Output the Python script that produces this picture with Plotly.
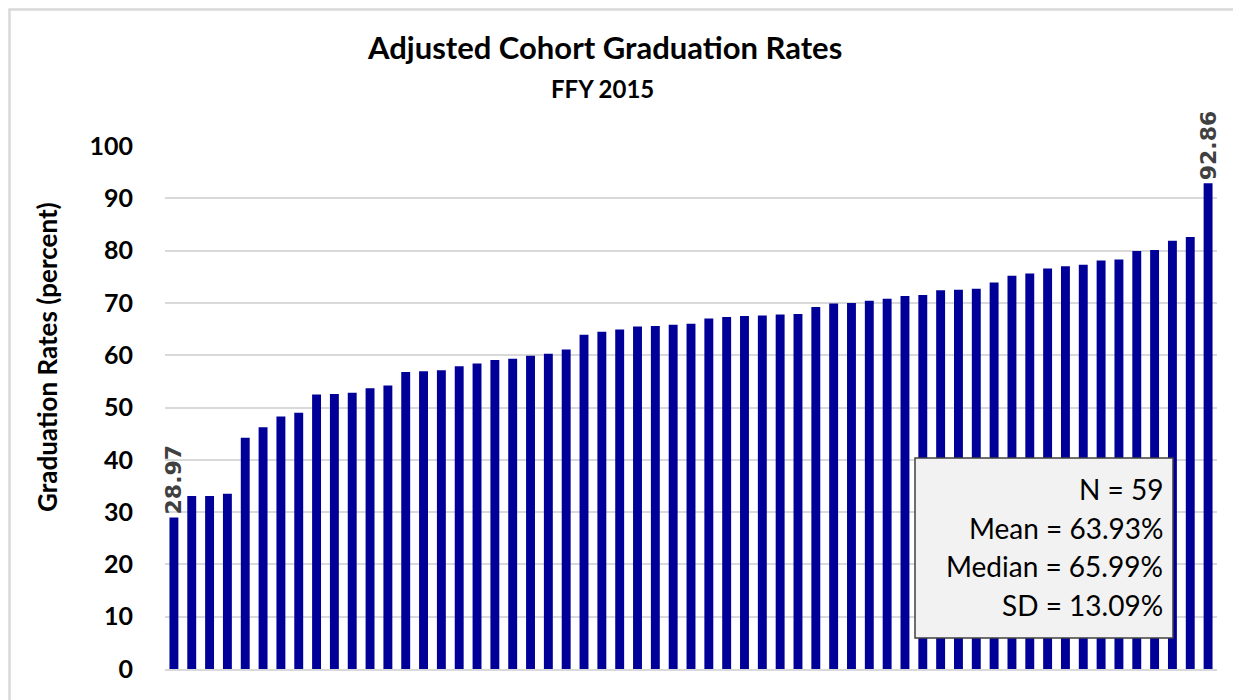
import plotly.graph_objects as go

# ---- data ----
rates = [28.97, 33.1, 33.1, 33.5, 44.2, 46.2, 48.3, 49.0, 52.5, 52.6,
         52.8, 53.7, 54.2, 56.8, 56.95, 57.1, 57.9, 58.4, 59.1, 59.3,
         59.9, 60.3, 61.1, 63.9, 64.5, 64.9, 65.5, 65.6, 65.8, 65.99,
         67.0, 67.3, 67.5, 67.6, 67.8, 67.9, 69.2, 69.9, 70.0, 70.4,
         70.8, 71.3, 71.5, 72.4, 72.5, 72.7, 73.9, 75.2, 75.6, 76.6,
         77.0, 77.3, 78.1, 78.3, 79.9, 80.1, 81.9, 82.6, 92.86]
units = list(range(1, len(rates) + 1))
labeled_units = [1, 59]
y_ticks = [0, 10, 20, 30, 40, 50, 60, 70, 80, 90, 100]
stats_lines = ["N = 59", "Mean = 63.93%", "Median = 65.99%", "SD = 13.09%"]
title_text = "Adjusted Cohort Graduation Rates"
subtitle_text = "FFY 2015"
y_title = "Graduation Rates (percent)"

# ---- layout geometry (pixels, in reference-screen coordinates) ----
OFF = 8                      # page body margin offset
W, H = 1241, 700
SL, SR, ST, SB = 165, 1217, 146, 669   # plot area edges on screen
L, T = SL - OFF, ST - OFF
R, B = W - (SR - OFF), H - (SB - OFF)
PW, PH = SR - SL, SB - ST


def px(x):
    return (x - SL) / PW


def py(y):
    return (SB - y) / PH


bar_text = [f"{v:.2f}" if u in labeled_units else "" for u, v in zip(units, rates)]

fig = go.Figure()
fig.add_trace(go.Bar(
    x=units, y=rates,
    marker=dict(color="#000099", line=dict(width=0)),
    text=bar_text, textposition="outside", textangle=-90,
    textfont=dict(family="DejaVu Sans", size=22, color="#404040", weight="bold"),
    constraintext="none", cliponaxis=False,
    hoverinfo="x+y",
))

fig.update_layout(
    width=W, height=H,
    margin=dict(l=L, r=R, t=T, b=B),
    paper_bgcolor="white", plot_bgcolor="white",
    bargap=0.5, showlegend=False,
    xaxis=dict(showticklabels=False, showgrid=False, zeroline=False,
               showline=True, linecolor="#d9d9d9", linewidth=2,
               range=[0.5, len(rates) + 0.5], ticks=""),
    yaxis=dict(range=[0, 100], tickvals=y_ticks, showgrid=True,
               gridcolor="#d9d9d9", gridwidth=2, zeroline=False,
               showline=False, ticks="outside", ticklen=26,
               tickcolor="rgba(0,0,0,0)",
               tickfont=dict(family="Lato", size=25, color="black", weight="bold")),
    font=dict(family="Lato"),
)

# outer chart border
fig.add_shape(type="rect", xref="paper", yref="paper",
              x0=px(9.5), x1=px(1300), y0=py(9.5), y1=py(760),
              line=dict(color="#d9d9d9", width=2.5), fillcolor="rgba(0,0,0,0)", layer="below")

# title & subtitle
fig.add_annotation(text=f"<b>{title_text}</b>", xref="paper", yref="paper",
                   x=px(604), y=py(47), showarrow=False, xanchor="center", yanchor="middle",
                   font=dict(family="Lato", size=31, color="black"))
fig.add_annotation(text=f"<b>{subtitle_text}</b>", xref="paper", yref="paper",
                   x=px(602), y=py(88), showarrow=False, xanchor="center", yanchor="middle",
                   font=dict(family="Lato", size=24, color="black"))

# y-axis title
fig.add_annotation(text=f"<b>{y_title}</b>", xref="paper", yref="paper",
                   x=px(47), y=py(357), showarrow=False, textangle=-90,
                   xanchor="center", yanchor="middle",
                   font=dict(family="Lato", size=26, color="black"))

# stats box
fig.add_shape(type="rect", xref="paper", yref="paper",
              x0=px(915), x1=px(1173), y0=py(638), y1=py(458),
              line=dict(color="#404040", width=1.5), fillcolor="#f2f2f2", layer="above")
for i, line in enumerate(stats_lines):
    fig.add_annotation(text=line, xref="paper", yref="paper",
                       x=px(1165), y=py(489 + 38.5 * i), showarrow=False,
                       xanchor="right", yanchor="middle",
                       font=dict(family="Lato", size=28, color="black"))

fig.write_html("out.html")
